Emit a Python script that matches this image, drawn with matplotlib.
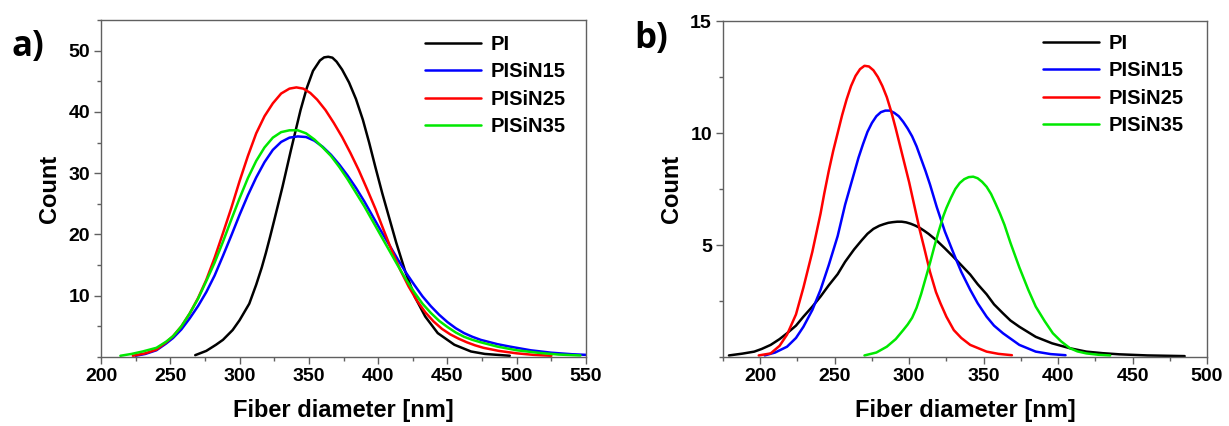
import matplotlib
matplotlib.use("Agg")
import matplotlib.pyplot as plt
from matplotlib.ticker import MultipleLocator, FixedLocator

plt.rcParams['font.family'] = ['Liberation Sans', 'DejaVu Sans']
plt.rcParams['font.weight'] = 'bold'

labels = ["PI", "PISiN15", "PISiN25", "PISiN35"]
colors = ["#000000", "#0000ff", "#ff0000", "#00e800"]

# ---- Panel a data (Fiber diameter [nm], Count) ----
a_pi_x = [268, 276, 283, 288, 295, 300, 307, 312, 316, 319, 322, 325, 331, 337, 344, 348.5, 353, 358, 361, 364,
          367, 370, 374, 379, 384, 389, 393.5, 398, 403, 408, 413, 419.5, 426.5, 434, 443, 455, 467, 477, 489, 495]
a_pi_y = [0.3, 1.0, 2.0, 2.8, 4.4, 6.0, 8.7, 11.8, 14.6, 17.0, 19.6, 22.3, 27.8, 33.7, 40.3, 43.9, 46.7, 48.4, 48.9, 49.0,
          48.85, 48.2, 46.9, 44.8, 42.1, 38.7, 35.0, 31.0, 26.7, 22.7, 18.7, 14.0, 9.8, 6.6, 3.9, 2.0, 0.9, 0.5, 0.3, 0.2]

a_15_x = [225, 232, 240, 247, 252, 258, 264, 270, 276, 282, 288, 294, 300, 306, 312, 318, 324, 330, 336,
          342, 348, 354, 360, 366, 372, 378, 384, 390, 396, 402, 408, 414, 420, 426, 432, 438, 444, 450,
          456, 462, 468, 474, 486, 495, 510, 525, 540, 550]
a_15_y = [0.2, 0.5, 1.1, 2.2, 3.1, 4.5, 6.3, 8.3, 10.6, 13.3, 16.5, 19.8, 23.2, 26.4, 29.3, 31.8, 33.8, 35.1, 35.8,
          36.0, 35.9, 35.3, 34.3, 33.0, 31.4, 29.6, 27.6, 25.4, 23.0, 20.6, 18.3, 16.0, 13.8, 11.8, 9.9, 8.3, 6.9, 5.7,
          4.7, 3.9, 3.3, 2.8, 2.1, 1.7, 1.1, 0.7, 0.45, 0.35]

a_25_x = [223, 232, 240, 247, 252, 258, 264, 270, 276, 282, 288, 294, 300, 306, 312, 318, 324, 330, 336,
          341, 346, 351, 356, 362, 368, 374, 380, 386, 392, 398, 404, 410, 416, 422, 428, 434, 440, 446,
          452, 458, 464, 470, 476, 487, 500, 512, 525]
a_25_y = [0.2, 0.6, 1.2, 2.4, 3.4, 5.0, 7.1, 9.6, 12.6, 16.2, 20.2, 24.3, 28.7, 32.8, 36.5, 39.3, 41.4, 43.0, 43.8,
          44.0, 43.8, 43.1, 42.0, 40.3, 38.2, 35.9, 33.3, 30.5, 27.4, 24.2, 20.7, 17.3, 14.2, 11.5, 9.2, 7.3, 5.8, 4.6,
          3.7, 3.0, 2.4, 1.9, 1.5, 1.0, 0.6, 0.35, 0.2]

a_35_x = [214, 222, 230, 240, 247, 252, 258, 264, 270, 276, 282, 288, 294, 300, 306, 312, 318, 324, 330,
          336, 342, 348, 354, 360, 366, 372, 378, 384, 390, 396, 402, 408, 414, 420, 426, 432, 438, 444,
          450, 456, 462, 468, 474, 486, 500, 515, 530, 546]
a_35_y = [0.2, 0.5, 0.9, 1.5, 2.5, 3.4, 5.0, 7.1, 9.5, 12.4, 15.4, 18.8, 22.4, 25.9, 29.2, 32.0, 34.2, 35.8, 36.7,
          37.0, 37.0, 36.5, 35.5, 34.2, 32.8, 31.0, 29.0, 26.8, 24.6, 22.2, 19.8, 17.4, 15.0, 12.7, 10.6, 8.7, 7.2, 5.9,
          4.9, 4.0, 3.3, 2.8, 2.4, 1.7, 1.1, 0.7, 0.4, 0.25]

# ---- Panel b data ----
b_pi_x = [179, 188, 196, 201, 207, 213, 218, 224, 229, 235, 240.5, 246, 252, 257, 263, 268, 272, 276, 280, 283,
          286, 289, 292, 295, 298, 301, 304, 307, 310, 313, 318.5, 324, 330, 335, 341, 346, 352, 357, 363, 368,
          374, 385, 396, 408, 419, 430, 441, 460, 485]
b_pi_y = [0.07, 0.15, 0.24, 0.36, 0.54, 0.8, 1.06, 1.4, 1.8, 2.25, 2.7, 3.2, 3.7, 4.25, 4.8, 5.2, 5.5, 5.72, 5.86, 5.93,
          5.99, 6.02, 6.04, 6.04, 6.01, 5.95, 5.87, 5.77, 5.64, 5.5, 5.2, 4.85, 4.45, 4.1, 3.68, 3.25, 2.8, 2.35, 1.95, 1.63,
          1.35, 0.9, 0.61, 0.39, 0.24, 0.17, 0.12, 0.07, 0.04]

b_15_x = [203, 210, 218, 224, 229, 235, 240.5, 246, 252, 257, 260, 263, 266, 269, 272, 275, 278, 281, 284, 287,
          290, 293, 296, 299, 302, 305, 308, 311, 314, 318.5, 324, 330, 335, 341, 346, 352, 357, 363, 374, 385, 395, 405]
b_15_y = [0.07, 0.2, 0.46, 0.85, 1.35, 2.1, 3.0, 4.1, 5.4, 6.8, 7.5, 8.2, 8.9, 9.5, 10.05, 10.45, 10.75, 10.93, 11.0, 11.0,
          10.9, 10.75, 10.5, 10.2, 9.85, 9.4, 8.85, 8.3, 7.7, 6.7, 5.6, 4.6, 3.8, 3.0, 2.4, 1.8, 1.4, 1.06, 0.54, 0.24, 0.13, 0.08]

b_25_x = [199, 207, 213, 218, 224, 229, 235, 240.5, 243, 246, 249, 252, 255, 258, 261, 264, 267, 270, 273, 276,
          279, 282, 285, 288, 291, 294, 297, 300, 303, 307, 310, 314, 318, 321, 325, 330, 335, 341, 352, 360, 369]
b_25_y = [0.07, 0.16, 0.5, 1.0, 1.9, 3.1, 4.7, 6.4, 7.3, 8.3, 9.2, 10.0, 10.8, 11.5, 12.1, 12.55, 12.85, 13.0, 12.97, 12.8,
          12.5, 12.1, 11.6, 10.95, 10.2, 9.4, 8.6, 7.8, 6.9, 5.7, 4.9, 3.8, 2.9, 2.4, 1.8, 1.2, 0.85, 0.54, 0.24, 0.14, 0.08]

b_35_x = [270, 278, 285, 291, 296, 299, 302, 305, 308, 311, 314, 317, 320, 323, 325, 328, 331, 334, 337, 340,
          343, 346, 349, 352, 355, 358, 361, 364, 368, 374, 380, 385, 391, 396.5, 402, 408, 413, 419, 427, 435]
b_35_y = [0.07, 0.2, 0.46, 0.8, 1.2, 1.45, 1.75, 2.2, 2.8, 3.5, 4.2, 4.95, 5.65, 6.3, 6.65, 7.1, 7.5, 7.77, 7.94, 8.03,
          8.05, 7.98, 7.82, 7.6, 7.28, 6.85, 6.4, 5.9, 5.1, 4.0, 3.0, 2.25, 1.6, 1.06, 0.7, 0.39, 0.25, 0.16, 0.1, 0.07]

fig = plt.figure(figsize=(12.29, 4.26), dpi=100)
axa = fig.add_axes([101/1229, 69/426, 485/1229, 337/426])
axb = fig.add_axes([723/1229, 69/426, 484/1229, 336/426])

tick_fs = 14
lab_fs = 17
leg_fs = 14.5
lw = 1.8
spine_col = "#606060"

def style(ax, xlim, ylim, xmaj, xmin, ymaj_list, ymin):
    ax.set_xlim(*xlim)
    ax.set_ylim(*ylim)
    ax.xaxis.set_major_locator(MultipleLocator(xmaj))
    ax.xaxis.set_minor_locator(MultipleLocator(xmin))
    ax.yaxis.set_major_locator(FixedLocator(ymaj_list))
    ax.yaxis.set_minor_locator(MultipleLocator(ymin))
    for s in ax.spines.values():
        s.set_color(spine_col)
        s.set_linewidth(1.0)
    ax.tick_params(which='major', direction='out', length=5, width=1, color=spine_col,
                   labelsize=tick_fs, pad=3)
    ax.tick_params(which='minor', direction='out', length=3, width=1, color=spine_col)
    for t in ax.get_xticklabels() + ax.get_yticklabels():
        t.set_fontweight('bold')
    ax.set_xlabel("Fiber diameter [nm]", fontsize=lab_fs, fontweight='bold', labelpad=10)
    ax.set_ylabel("Count", fontsize=lab_fs, fontweight='bold', labelpad=5)

for (xs, ys), lab, c in zip([(a_pi_x, a_pi_y), (a_15_x, a_15_y), (a_25_x, a_25_y), (a_35_x, a_35_y)], labels, colors):
    axa.plot(xs, ys, color=c, lw=lw, label=lab, solid_capstyle='round', solid_joinstyle='round')
for (xs, ys), lab, c in zip([(b_pi_x, b_pi_y), (b_15_x, b_15_y), (b_25_x, b_25_y), (b_35_x, b_35_y)], labels, colors):
    axb.plot(xs, ys, color=c, lw=lw, label=lab, solid_capstyle='round', solid_joinstyle='round')

style(axa, (200, 550), (0, 55), 50, 25, [10, 20, 30, 40, 50], 5)
style(axb, (175, 500), (0, 15), 50, 25, [5, 10, 15], 2.5)

for ax, anchor in [(axa, (0.668, 0.956)), (axb, (0.661, 0.962))]:
    ax.legend(loc='upper left', bbox_to_anchor=anchor, frameon=False, borderpad=0,
              borderaxespad=0, handlelength=2.8, handletextpad=0.45, labelspacing=0.42,
              prop={'family': 'Liberation Sans', 'weight': 'bold', 'size': leg_fs})

fig.text(28/1229, 1 - 47/426, "a)", fontsize=25, fontweight='bold', family='Open Sans',
         ha='center', va='center')
fig.text(651/1229, 1 - 39/426, "b)", fontsize=25, fontweight='bold', family='Open Sans',
         ha='center', va='center')

fig.savefig("out.png", dpi=100)
